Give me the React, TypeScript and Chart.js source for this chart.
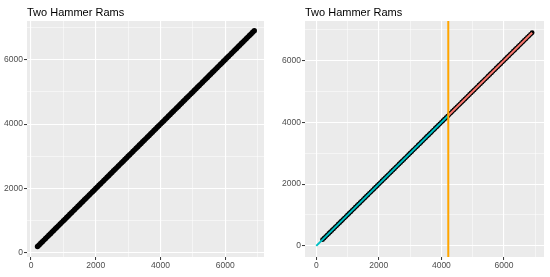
import React, { useEffect, useRef } from "react";
import { Chart, registerables } from "chart.js";

Chart.register(...registerables);

const TITLE = "Two Hammer Rams";

const pointX = [
  200, 250, 300, 350, 400, 450, 500, 550, 600, 650, 700, 750, 800, 850, 900, 950,
  1000, 1050, 1100, 1150, 1200, 1250, 1300, 1350, 1400, 1450, 1500, 1550, 1600,
  1650, 1700, 1750, 1800, 1850, 1900, 1950, 2000, 2050, 2100, 2150, 2200, 2250,
  2300, 2350, 2400, 2450, 2500, 2550, 2600, 2650, 2700, 2750, 2800, 2850, 2900,
  2950, 3000, 3050, 3100, 3150, 3200, 3250, 3300, 3350, 3400, 3450, 3500, 3550,
  3600, 3650, 3700, 3750, 3800, 3850, 3900, 3950, 4000, 4050, 4100, 4150, 4200,
  4250, 4300, 4350, 4400, 4450, 4500, 4550, 4600, 4650, 4700, 4750, 4800, 4850,
  4900, 4950, 5000, 5050, 5100, 5150, 5200, 5250, 5300, 5350, 5400, 5450, 5500,
  5550, 5600, 5650, 5700, 5750, 5800, 5850, 5900, 5950, 6000, 6050, 6100, 6150,
  6200, 6250, 6300, 6350, 6400, 6450, 6500, 6550, 6600, 6650, 6700, 6750, 6800,
  6850, 6900,
];
const pointY = [
  200, 250, 300, 350, 400, 450, 500, 550, 600, 650, 700, 750, 800, 850, 900, 950,
  1000, 1050, 1100, 1150, 1200, 1250, 1300, 1350, 1400, 1450, 1500, 1550, 1600,
  1650, 1700, 1750, 1800, 1850, 1900, 1950, 2000, 2050, 2100, 2150, 2200, 2250,
  2300, 2350, 2400, 2450, 2500, 2550, 2600, 2650, 2700, 2750, 2800, 2850, 2900,
  2950, 3000, 3050, 3100, 3150, 3200, 3250, 3300, 3350, 3400, 3450, 3500, 3550,
  3600, 3650, 3700, 3750, 3800, 3850, 3900, 3950, 4000, 4050, 4100, 4150, 4200,
  4250, 4300, 4350, 4400, 4450, 4500, 4550, 4600, 4650, 4700, 4750, 4800, 4850,
  4900, 4950, 5000, 5050, 5100, 5150, 5200, 5250, 5300, 5350, 5400, 5450, 5500,
  5550, 5600, 5650, 5700, 5750, 5800, 5850, 5900, 5950, 6000, 6050, 6100, 6150,
  6200, 6250, 6300, 6350, 6400, 6450, 6500, 6550, 6600, 6650, 6700, 6750, 6800,
  6850, 6900,
];

const segment1X = [0, 4220];
const segment1Y = [0, 4220];
const segment2X = [4220, 6900];
const segment2Y = [4220, 6900];
const breakpoint = 4220;

const gridValues = [0, 1000, 2000, 3000, 4000, 5000, 6000, 7000];
const labelValues = [0, 2000, 4000, 6000];

const leftRange = [-125, 7200];
const rightRange = [-360, 7280];

const panelBg = {
  id: "panelBg",
  beforeDraw(chart: any) {
    const { ctx, chartArea } = chart;
    ctx.save();
    ctx.fillStyle = "#EBEBEB";
    ctx.fillRect(chartArea.left, chartArea.top, chartArea.right - chartArea.left, chartArea.bottom - chartArea.top);
    ctx.restore();
  },
};

const vlinePlugin = {
  id: "vline",
  afterDatasetsDraw(chart: any, _args: any, opts: any) {
    if (opts == null || opts.value == null) return;
    const { ctx, chartArea } = chart;
    const px = chart.scales.x.getPixelForValue(opts.value);
    ctx.save();
    ctx.strokeStyle = "#FFA500";
    ctx.lineWidth = 2;
    ctx.beginPath();
    ctx.moveTo(px, chartArea.top);
    ctx.lineTo(px, chartArea.bottom);
    ctx.stroke();
    ctx.restore();
  },
};

const isMajor = (v: number) => labelValues.indexOf(v) >= 0;

function makeScale(range: number[], isY: boolean, size: number) {
  return {
    type: "linear",
    min: range[0],
    max: range[1],
    border: { display: false },
    afterFit(scale: any) {
      if (isY) scale.width = size;
      else scale.height = size;
    },
    afterBuildTicks(scale: any) {
      scale.ticks = gridValues.map((v) => ({ value: v }));
    },
    grid: {
      color: "#FFFFFF",
      lineWidth: (c: any) => (c.tick && isMajor(c.tick.value) ? 1.1 : 0.5),
      tickColor: (c: any) => (c.tick && isMajor(c.tick.value) ? "#333333" : "rgba(0,0,0,0)"),
      tickLength: 3,
      tickWidth: 1,
    },
    ticks: {
      autoSkip: false,
      maxRotation: 0,
      padding: 1,
      color: "#4D4D4D",
      font: { family: "'Liberation Sans', Arial, sans-serif", size: 8.5 },
      callback: (v: any) => (isMajor(Number(v)) ? String(v) : ""),
    },
  };
}

function Panel(props: { right: boolean }) {
  const ref = useRef<HTMLCanvasElement | null>(null);
  useEffect(() => {
    if (!ref.current) return;
    const right = props.right;
    const range = right ? rightRange : leftRange;
    const pts = pointX.map((x, i) => ({ x, y: pointY[i] }));
    const datasets: any[] = [
      {
        type: "scatter",
        data: pts,
        backgroundColor: "#000000",
        borderColor: "#000000",
        pointRadius: right ? 2.4 : 2.7,
        borderWidth: 0,
        showLine: false,
        order: 5,
      },
    ];
    if (right) {
      datasets.push({
        type: "line",
        data: segment1X.map((x, i) => ({ x, y: segment1Y[i] })),
        borderColor: "#00BFC4",
        borderWidth: 2,
        pointRadius: 0,
        fill: false,
        order: 1,
      });
      datasets.push({
        type: "line",
        data: segment2X.map((x, i) => ({ x, y: segment2Y[i] })),
        borderColor: "#F8766D",
        borderWidth: 2,
        pointRadius: 0,
        fill: false,
        order: 1,
      });
    }
    const chart = new Chart(ref.current, {
      type: "scatter",
      data: { datasets },
      plugins: [panelBg, vlinePlugin],
      options: {
        animation: false,
        responsive: false,
        maintainAspectRatio: false,
        layout: { padding: { left: 0, right: right ? 6 : 11, top: 0, bottom: 0 } },
        plugins: {
          legend: { display: false },
          tooltip: { enabled: false },
          title: {
            display: true,
            text: TITLE,
            align: "start",
            fullSize: false,
            color: "#000000",
            font: { family: "'Liberation Sans', Arial, sans-serif", size: 11, weight: "normal", lineHeight: 1.2 },
            padding: { top: 6, bottom: 1.8 },
          },
          vline: right ? { value: breakpoint } : { value: null },
        } as any,
        scales: {
          x: makeScale(range, false, 20),
          y: makeScale(range, true, right ? 30 : 27),
        } as any,
      },
    } as any);
    return () => chart.destroy();
  }, [props.right]);
  return (
    <canvas
      ref={ref}
      width={275}
      height={277}
      style={{ position: "absolute", left: props.right ? 275 : 0, top: 0, width: 275, height: 277 }}
    />
  );
}

export default function App() {
  return (
    <div style={{ position: "absolute", left: 0, top: 0, width: 550, height: 277, background: "#FFFFFF" }}>
      <Panel right={false} />
      <Panel right={true} />
    </div>
  );
}
